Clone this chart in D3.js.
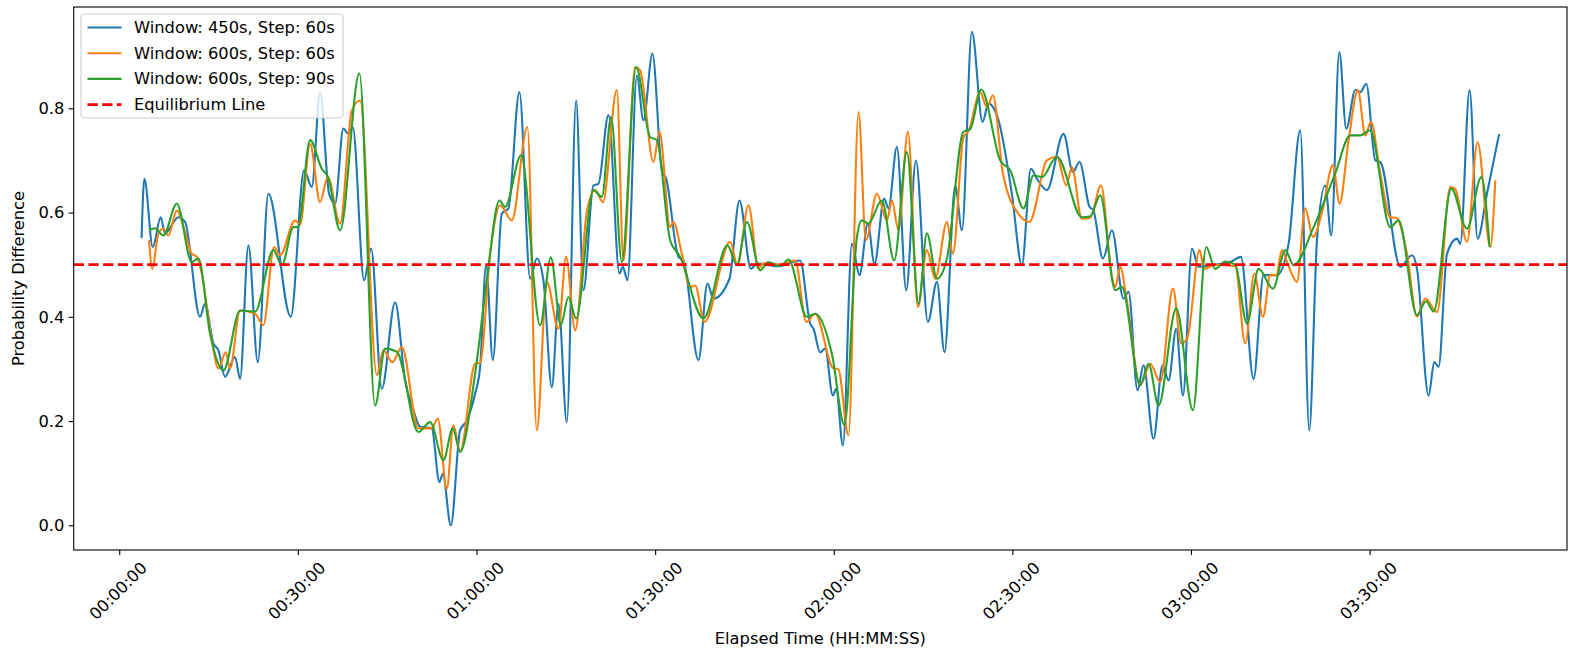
<!DOCTYPE html>
<html>
<head>
<meta charset="utf-8">
<script src="https://cdn.jsdelivr.net/npm/d3@7"></script>
<style>
  body { margin: 0; background: #fff; }
  text { font-family: "DejaVu Sans", sans-serif; fill: #000; }
</style>
</head>
<body>
<svg id="chart" width="1571" height="655"></svg>
<script>
// Elapsed time in minutes, probability difference
const series450s60 = [
  [3.75,0.551],[4.22,0.665],[5.63,0.534],[6.97,0.591],[7.69,0.560],[9.93,0.591],[11.05,0.582],
  [13.57,0.400],[14.41,0.425],[15.81,0.349],[16.65,0.336],[17.77,0.285],[19.45,0.323],[20.29,0.281],
  [21.69,0.537],[23.27,0.313],[25.05,0.636],[28.81,0.400],[31.05,0.681],[32.34,0.649],[33.73,0.831],
  [35.24,0.636],[36.25,0.617],[37.64,0.761],[38.48,0.751],[39.22,0.764],[41.12,0.470],[42.30,0.531],
  [44.10,0.262],[46.33,0.428],[48.01,0.278],[49.40,0.221],[50.53,0.189],[52.49,0.186],[53.77,0.083],
  [54.34,0.099],[55.69,0.000],[57.25,0.182],[58.37,0.201],[59.77,0.253],[60.61,0.304],[61.62,0.499],
  [62.74,0.317],[64.25,0.598],[65.36,0.608],[67.21,0.831],[69.01,0.473],[70.13,0.512],[71.24,0.470],
  [72.65,0.265],[73.76,0.425],[75.17,0.198],[76.73,0.815],[77.96,0.451],[79.64,0.652],[80.48,0.655],
  [82.16,0.787],[84.01,0.483],[84.58,0.496],[85.35,0.470],[86.93,0.863],[88.04,0.777],[89.55,0.905],
  [91.13,0.681],[91.85,0.665],[93.92,0.515],[94.76,0.508],[97.28,0.317],[98.79,0.464],[99.80,0.435],
  [102.49,0.473],[104.17,0.623],[106.08,0.492],[107.09,0.502],[110.67,0.497],[114.36,0.508],
  [116.04,0.387],[116.60,0.377],[117.72,0.332],[118.56,0.339],[119.85,0.249],[120.41,0.262],
  [121.54,0.153],[123.05,0.540],[124.32,0.480],[125.73,0.579],[126.84,0.502],[128.47,0.627],
  [129.19,0.608],[130.61,0.726],[132.17,0.451],[133.80,0.700],[135.81,0.390],[137.33,0.467],
  [138.60,0.332],[140.40,0.652],[141.53,0.566],[143.20,0.947],[144.99,0.774],[145.99,0.809],
  [147.67,0.777],[149.92,0.636],[151.60,0.499],[153.12,0.684],[154.12,0.665],[155.80,0.643],
  [158.59,0.751],[160.17,0.678],[161.28,0.697],[162.96,0.611],[163.58,0.605],[165.21,0.512],
  [166.72,0.566],[168.67,0.435],[169.51,0.448],[171.02,0.259],[172.03,0.307],[173.71,0.166],
  [175.22,0.307],[176.23,0.278],[177.52,0.377],[178.65,0.249],[180.16,0.531],[181.27,0.496],
  [184.07,0.500],[186.59,0.505],[188.39,0.515],[190.51,0.281],[192.19,0.480],[194.44,0.480],
  [196.39,0.540],[198.35,0.758],[199.86,0.182],[201.16,0.547],[202.55,0.652],[203.56,0.556],
  [204.91,0.908],[206.08,0.761],[207.59,0.835],[208.43,0.831],[209.44,0.847],[210.95,0.700],
  [211.79,0.697],[215.15,0.496],[217.12,0.518],[217.96,0.492],[219.90,0.249],[220.86,0.313],
  [221.58,0.304],[223.00,0.521],[224.68,0.550],[225.23,0.540],[226.79,0.835],[228.13,0.550],
  [229.71,0.636],[231.75,0.751]
];
const series600s60 = [
  [5.0,0.547],[5.56,0.492],[6.57,0.560],[7.41,0.569],[8.25,0.556],[9.66,0.604],[11.05,0.563],
  [12.18,0.521],[13.02,0.515],[13.86,0.483],[15.54,0.355],[16.65,0.301],[17.89,0.332],[18.61,0.301],
  [20.29,0.412],[22.81,0.406],[24.21,0.384],[26.00,0.534],[27.01,0.518],[29.53,0.585],[30.37,0.577],
  [32.05,0.732],[33.73,0.620],[35.02,0.668],[37.09,0.579],[39.06,0.796],[40.45,0.815],[43.26,0.288],
  [44.36,0.336],[45.88,0.313],[47.46,0.342],[50.24,0.186],[52.49,0.186],[53.50,0.205],[55.01,0.070],
  [56.12,0.192],[57.25,0.141],[59.77,0.310],[60.61,0.312],[62.29,0.521],[63.97,0.614],[65.93,0.585],
  [68.55,0.764],[70.13,0.182],[71.81,0.467],[73.76,0.377],[75.05,0.515],[76.57,0.374],[78.53,0.601],
  [79.93,0.643],[81.22,0.620],[83.57,0.835],[84.68,0.508],[86.64,0.879],[87.48,0.873],[89.72,0.697],
  [90.73,0.755],[92.52,0.572],[93.08,0.582],[94.49,0.521],[95.88,0.457],[96.72,0.460],[98.29,0.390],
  [102.60,0.544],[103.83,0.499],[105.68,0.614],[107.36,0.492],[108.20,0.503],[111.0,0.500],
  [113.52,0.508],[115.37,0.390],[116.88,0.406],[119.96,0.301],[120.74,0.300],[122.48,0.173],
  [124.16,0.793],[125.40,0.547],[127.25,0.636],[128.93,0.585],[129.77,0.623],[130.87,0.566],
  [132.46,0.755],[134.13,0.419],[135.65,0.528],[137.04,0.473],[139.01,0.582],[140.01,0.521],
  [141.79,0.745],[142.63,0.756],[144.60,0.831],[145.73,0.802],[146.73,0.825],[148.41,0.675],
  [151.20,0.595],[152.88,0.582],[155.80,0.700],[157.48,0.707],[159.05,0.652],[160.00,0.687],
  [161.68,0.588],[163.08,0.590],[164.88,0.652],[166.72,0.476],[167.28,0.457],[168.12,0.496],
  [169.24,0.430],[171.47,0.269],[173.16,0.310],[174.84,0.275],[176.97,0.454],[178.36,0.349],
  [179.40,0.360],[181.44,0.528],[182.22,0.492],[184.07,0.500],[187.43,0.497],[189.11,0.349],
  [190.63,0.483],[192.09,0.400],[193.31,0.480],[194.32,0.480],[195.28,0.528],[196.22,0.502],
  [197.80,0.467],[199.19,0.608],[200.49,0.553],[202.0,0.600],[203.84,0.691],[204.95,0.617],
  [206.47,0.739],[208.04,0.835],[209.27,0.748],[210.23,0.774],[211.79,0.675],[213.47,0.591],
  [214.48,0.590],[216.28,0.521],[217.96,0.400],[219.35,0.435],[221.32,0.409],[223.55,0.649],
  [224.39,0.645],[226.35,0.544],[228.13,0.735],[230.27,0.534],[231.11,0.662]
];
const series600s90 = [
  [5.0,0.566],[6.01,0.570],[7.41,0.556],[9.66,0.617],[12.18,0.505],[13.29,0.512],[15.25,0.368],
  [17.49,0.297],[20.29,0.412],[22.81,0.410],[25.89,0.528],[27.30,0.499],[29.25,0.572],[30.04,0.572],
  [32.05,0.739],[34.02,0.684],[35.07,0.668],[37.09,0.566],[40.33,0.867],[42.97,0.230],[44.65,0.339],
  [46.62,0.333],[50.24,0.179],[52.21,0.198],[54.44,0.125],[56.02,0.186],[57.25,0.141],[59.77,0.291],
  [61.73,0.470],[63.85,0.623],[64.81,0.611],[67.50,0.710],[70.69,0.384],[72.48,0.514],[74.16,0.384],
  [75.44,0.438],[76.73,0.397],[79.64,0.643],[81.05,0.630],[82.61,0.783],[84.41,0.505],[86.81,0.879],
  [89.16,0.745],[90.29,0.739],[92.52,0.547],[94.20,0.515],[98.12,0.397],[102.15,0.537],[103.73,0.499],
  [105.41,0.582],[107.64,0.489],[108.99,0.505],[111.0,0.497],[112.40,0.510],[115.49,0.400],
  [116.88,0.406],[119.69,0.329],[121.80,0.192],[123.89,0.553],[124.73,0.585],[125.79,0.579],
  [128.09,0.623],[130.15,0.508],[132.29,0.716],[134.24,0.425],[135.65,0.560],[137.33,0.473],
  [139.01,0.512],[141.79,0.755],[142.92,0.760],[144.77,0.836],[147.96,0.700],[149.64,0.681],
  [151.87,0.608],[153.55,0.671],[154.96,0.668],[157.48,0.707],[161.68,0.591],[163.08,0.593],
  [164.76,0.633],[167.28,0.451],[168.40,0.457],[171.47,0.269],[172.87,0.310],[174.55,0.230],
  [177.52,0.416],[180.33,0.221],[182.56,0.534],[184.07,0.492],[185.75,0.506],[187.43,0.500],
  [189.40,0.387],[191.35,0.492],[193.77,0.454],[195.84,0.528],[197.22,0.499],[200.59,0.572],
  [204.23,0.675],[206.75,0.748],[208.43,0.748],[210.07,0.758],[213.47,0.572],[214.87,0.585],
  [217.96,0.403],[219.47,0.430],[220.74,0.410],[223.72,0.646],[226.35,0.569],[228.76,0.668],
  [230.15,0.534]
];
const seriesNames = ["Window: 450s, Step: 60s", "Window: 600s, Step: 60s", "Window: 600s, Step: 90s"];
const seriesColors = ["#1f77b4", "#ff7f0e", "#2ca02c"];
const equilibrium = 0.5;
const equilibriumName = "Equilibrium Line";
const xTickMinutes = [0, 30, 60, 90, 120, 150, 180, 210];
const yTicks = [0.0, 0.2, 0.4, 0.6, 0.8];
const xLabel = "Elapsed Time (HH:MM:SS)";
const yLabel = "Probability Difference";

const allSeries = [series450s60, series600s60, series600s90];
const FS = "16.3px";

const svg = d3.select("#chart");
const m = {left: 73.7, right: 1567, top: 7, bottom: 550};

const all = allSeries.flat();
const xe = d3.extent(all, d => d[0]);
const ye = d3.extent(all, d => d[1]);
const xp = (xe[1] - xe[0]) * 0.05, yp = (ye[1] - ye[0]) * 0.05;
const x = d3.scaleLinear().domain([xe[0] - xp, xe[1] + xp]).range([m.left, m.right]);
const y = d3.scaleLinear().domain([ye[0] - yp, ye[1] + yp]).range([m.bottom, m.top]);

svg.append("defs").append("clipPath").attr("id", "clip")
  .append("rect").attr("x", m.left).attr("y", m.top)
  .attr("width", m.right - m.left).attr("height", m.bottom - m.top);

const line = d3.line().x(d => x(d[0])).y(d => y(d[1])).curve(d3.curveMonotoneX);
const plot = svg.append("g").attr("clip-path", "url(#clip)");
allSeries.forEach((s, i) => {
  plot.append("path").datum(s).attr("d", line)
    .attr("fill", "none").attr("stroke", seriesColors[i])
    .attr("stroke-width", 2.1).attr("stroke-linejoin", "round").attr("stroke-linecap", "butt");
});
const DASH = "10.3,4.4";
plot.append("line")
  .attr("x1", m.left).attr("x2", m.right)
  .attr("y1", y(equilibrium)).attr("y2", y(equilibrium))
  .attr("stroke", "#ff0000").attr("stroke-width", 2.7).attr("stroke-dasharray", DASH);

// Axes
const fmt = mins => {
  const s = Math.round(mins * 60);
  const hh = String(Math.floor(s / 3600)).padStart(2, "0");
  const mm = String(Math.floor((s % 3600) / 60)).padStart(2, "0");
  const ss = String(s % 60).padStart(2, "0");
  return `${hh}:${mm}:${ss}`;
};
const xAxis = d3.axisBottom(x).tickValues(xTickMinutes).tickFormat(fmt).tickSizeOuter(0).tickSize(4.9).tickPadding(3.5);
const gx = svg.append("g").attr("transform", `translate(0,${m.bottom})`).call(xAxis);
gx.select(".domain").remove();
gx.selectAll("line").attr("stroke", "#000").attr("stroke-width", 1.1);
gx.selectAll("text")
  .style("font-size", FS).style("font-family", "DejaVu Sans")
  .attr("text-anchor", "middle").attr("dominant-baseline", "central")
  .attr("y", 0).attr("dy", null)
  .attr("transform", "translate(-1.5,41) rotate(-45)");

const yAxis = d3.axisLeft(y).tickValues(yTicks).tickFormat(d3.format(".1f")).tickSizeOuter(0).tickSize(4.9).tickPadding(4.5);
const gy = svg.append("g").attr("transform", `translate(${m.left},0)`).call(yAxis);
gy.select(".domain").remove();
gy.selectAll("line").attr("stroke", "#000").attr("stroke-width", 1.1);
gy.selectAll("text").style("font-size", FS).style("font-family", "DejaVu Sans");

svg.append("rect").attr("x", m.left).attr("y", m.top)
  .attr("width", m.right - m.left).attr("height", m.bottom - m.top)
  .attr("fill", "none").attr("stroke", "#000").attr("stroke-width", 1.1);

svg.append("text").attr("x", (m.left + m.right) / 2).attr("y", 644)
  .attr("text-anchor", "middle").style("font-size", FS).text(xLabel);
svg.append("text").attr("transform", `translate(23.5,${(m.top + m.bottom) / 2}) rotate(-90)`)
  .attr("text-anchor", "middle").style("font-size", FS).text(yLabel);

// Legend
const lg = svg.append("g").attr("transform", `translate(81,14)`);
lg.append("rect").attr("x", 0).attr("y", 0).attr("width", 262).attr("height", 104)
  .attr("rx", 3).attr("fill", "#fff").attr("fill-opacity", 0.8).attr("stroke", "#cccccc").attr("stroke-width", 1);
const legendItems = seriesNames.map((n, i) => ({name: n, color: seriesColors[i], dash: null, w: 2.1}))
  .concat([{name: equilibriumName, color: "#ff0000", dash: DASH, w: 2.7}]);
legendItems.forEach((it, i) => {
  const yy = 13.5 + i * 25.7;
  lg.append("line").attr("x1", 6.5).attr("x2", 40.5).attr("y1", yy).attr("y2", yy)
    .attr("stroke", it.color).attr("stroke-width", it.w).attr("stroke-dasharray", it.dash);
  lg.append("text").attr("x", 53).attr("y", yy).attr("dominant-baseline", "central")
    .style("font-size", FS).text(it.name);
});
</script>
</body>
</html>
